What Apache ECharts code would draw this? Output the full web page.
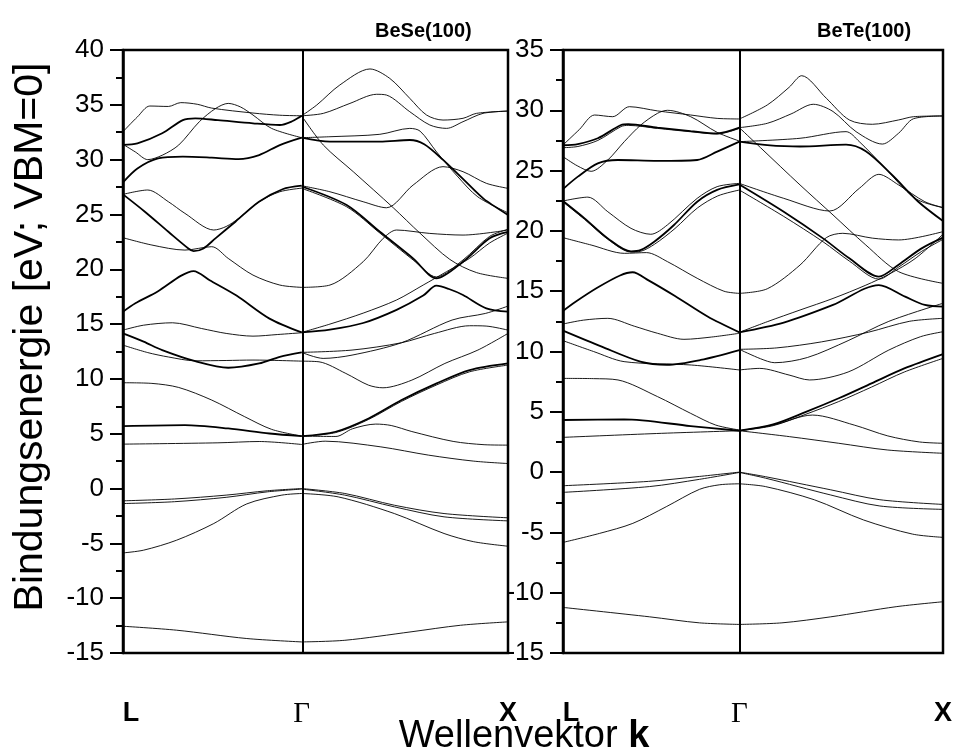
<!DOCTYPE html>
<html>
<head>
<meta charset="utf-8">
<script src="https://cdn.jsdelivr.net/npm/echarts@6/dist/echarts.min.js"></script>
<style>
  html, body { margin: 0; padding: 0; background: #fff; }
  #chart { width: 955px; height: 751px; }
</style>
</head>
<body>
<div id="chart"></div>
<script>
// k path: L -> Gamma -> X (units of 2pi/a)
const kPoints = [0, 0.866, 1.866]
const kLabels = ['L', 'Γ', 'X']

// BeSe(100): bands as [k, E (eV)], L-Gamma segment
const beseLG = [
  [[0,32.55],[0.07,33.9],[0.13,34.89],[0.22,34.85],[0.28,35.2],[0.36,35.05],[0.43,34.7],[0.63,34.25],[0.76,34.05],[0.866,34.0]],
  [[0,31.4],[0.06,30.7],[0.12,30.0],[0.19,30.4],[0.27,31.33],[0.37,33.46],[0.45,34.68],[0.51,35.13],[0.57,34.8],[0.63,34.07],[0.72,32.85],[0.866,32.0]],
  [[0,31.35],[0.07,31.48],[0.19,32.4],[0.29,33.61],[0.35,33.77],[0.46,33.6],[0.63,33.31],[0.76,33.16],[0.82,33.5],[0.866,34.0]],
  [[0,27.93],[0.07,29.2],[0.17,30.12],[0.29,30.27],[0.43,30.18],[0.56,30.05],[0.66,30.42],[0.76,31.33],[0.866,32.0]],
  [[0,26.83],[0.12,27.23],[0.22,26.16],[0.3,25.1],[0.44,23.58],[0.5,23.9],[0.56,24.64],[0.66,26.16],[0.76,27.07],[0.866,27.4]],
  [[0,26.83],[0.106,25.25],[0.22,23.42],[0.317,21.9],[0.342,21.66],[0.39,21.9],[0.448,22.82],[0.545,24.34],[0.659,26.16],[0.773,27.3],[0.866,27.62]],
  [[0,22.88],[0.14,22.21],[0.3,21.75],[0.43,22.06],[0.51,20.99],[0.63,19.47],[0.76,18.56],[0.866,18.35]],
  [[0,16.13],[0.06,16.9],[0.17,18.0],[0.28,19.4],[0.342,19.84],[0.42,19.0],[0.55,17.6],[0.71,15.5],[0.866,14.24]],
  [[0,14.45],[0.1,14.9],[0.24,15.12],[0.38,14.6],[0.5,14.15],[0.63,13.9],[0.75,14.05],[0.866,14.21]],
  [[0,14.15],[0.1,13.4],[0.19,12.63],[0.35,11.62],[0.51,11.02],[0.66,11.41],[0.76,12.02],[0.866,12.42]],
  [[0,13.08],[0.12,12.4],[0.22,12.0],[0.35,11.65],[0.5,11.68],[0.63,11.72],[0.866,11.62]],
  [[0,9.65],[0.14,9.59],[0.27,9.22],[0.43,8.07],[0.59,6.55],[0.72,5.4],[0.866,4.78]],
  [[0,5.69],[0.3,5.78],[0.51,5.48],[0.71,5.02],[0.866,4.78]],
  [[0,4.05],[0.46,4.17],[0.66,4.29],[0.866,4.02]],
  [[0,-1.12],[0.25,-0.95],[0.5,-0.6],[0.7,-0.2],[0.866,0]],
  [[0,-1.37],[0.25,-1.2],[0.5,-0.8],[0.7,-0.3],[0.866,-0.05]],
  [[0,-5.87],[0.1,-5.62],[0.26,-4.71],[0.44,-3.19],[0.6,-1.4],[0.77,-0.6],[0.866,-0.45]],
  [[0,-12.56],[0.26,-12.92],[0.6,-13.68],[0.866,-13.99]]
]

// BeSe(100): Gamma-X segment
const beseGX = [
  [[0.866,34.0],[0.939,34.98],[1.051,36.81],[1.197,38.27],[1.293,37.41],[1.39,35.59],[1.471,34.07],[1.551,33.61],[1.648,33.77],[1.713,34.22],[1.866,34.43]],
  [[0.866,34.0],[0.971,34.22],[1.1,35.13],[1.229,35.96],[1.277,35.89],[1.39,34.37],[1.487,33.16],[1.568,32.85],[1.648,33.46],[1.745,34.22],[1.866,34.43]],
  [[0.866,34.0],[0.971,31.33],[1.116,28.9],[1.31,25.61],[1.439,23.3],[1.584,20.9],[1.713,19.7],[1.866,19.17]],
  [[0.866,32.0],[1.003,32.09],[1.245,32.31],[1.39,32.85],[1.44,32.6],[1.52,30.7],[1.62,28.5],[1.72,26.6],[1.866,25.15]],
  [[0.866,32.0],[1.003,31.64],[1.245,31.64],[1.39,31.79],[1.46,31.4],[1.55,30.0],[1.65,28.2],[1.75,26.4],[1.866,24.95]],
  [[0.866,27.62],[1.003,27.07],[1.164,26.16],[1.277,25.61],[1.406,27.68],[1.551,29.36],[1.648,28.9],[1.761,27.84],[1.866,27.38]],
  [[0.866,27.55],[1.084,25.86],[1.245,23.42],[1.406,20.99],[1.519,19.17],[1.648,20.69],[1.777,22.82],[1.866,23.4]],
  [[0.866,27.38],[1.084,25.7],[1.245,23.3],[1.406,20.85],[1.519,19.3],[1.648,20.85],[1.777,23.0],[1.866,23.65]],
  [[0.866,18.35],[1.003,18.56],[1.164,20.69],[1.261,22.82],[1.326,23.58],[1.487,23.27],[1.648,23.12],[1.866,23.58]],
  [[0.866,14.24],[1.003,14.5],[1.164,15.1],[1.326,16.3],[1.455,17.6],[1.519,18.5],[1.58,18.2],[1.648,17.65],[1.761,16.43],[1.866,16.13]],
  [[0.866,14.24],[1.003,15.0],[1.164,16.0],[1.326,17.2],[1.455,18.56],[1.568,19.78],[1.68,21.0],[1.777,22.4],[1.866,23.3]],
  [[0.866,11.62],[0.95,11.56],[1.08,10.5],[1.19,9.43],[1.26,9.19],[1.4,9.89],[1.56,11.41],[1.72,12.63],[1.866,14.15]],
  [[0.866,12.42],[1.11,12.63],[1.35,13.3],[1.51,14.15],[1.68,14.85],[1.76,14.82],[1.866,14.45]],
  [[0.866,12.42],[0.97,11.87],[1.11,12.17],[1.35,13.3],[1.595,15.37],[1.756,15.97],[1.866,16.64]],
  [[0.866,4.78],[1.03,5.18],[1.19,6.39],[1.35,8.07],[1.52,9.59],[1.68,10.8],[1.866,11.41]],
  [[0.866,4.78],[1.03,5.1],[1.19,6.3],[1.35,7.95],[1.52,9.45],[1.68,10.65],[1.866,11.26]],
  [[0.866,4.78],[1.032,4.75],[1.112,5.45],[1.225,5.88],[1.3,5.75],[1.4,5.2],[1.6,4.3],[1.75,4.0],[1.866,3.96]],
  [[0.866,4.02],[0.98,4.32],[1.25,3.8],[1.48,3.05],[1.7,2.5],[1.866,2.28]],
  [[0.866,0],[1.075,-0.45],[1.315,-1.52],[1.556,-2.28],[1.866,-2.67]],
  [[0.866,-0.05],[1.075,-0.6],[1.315,-1.67],[1.556,-2.58],[1.866,-2.95]],
  [[0.866,-0.45],[1.043,-0.76],[1.315,-2.28],[1.556,-4.1],[1.7,-4.85],[1.866,-5.26]],
  [[0.866,-13.99],[1.075,-13.84],[1.396,-13.07],[1.636,-12.47],[1.866,-12.16]]
]

// BeTe(100): L-Gamma segment
const beteLG = [
  [[0,27.12],[0.08,28.4],[0.155,29.61],[0.244,29.47],[0.326,30.3],[0.464,29.95],[0.627,29.61],[0.757,29.33],[0.866,29.28]],
  [[0,26.16],[0.07,25.4],[0.138,24.94],[0.22,25.88],[0.301,27.4],[0.382,28.78],[0.464,29.75],[0.513,30.0],[0.627,29.47],[0.757,28.17],[0.866,27.45]],
  [[0,27.1],[0.073,27.2],[0.171,27.68],[0.285,28.78],[0.32,28.85],[0.464,28.56],[0.627,28.28],[0.757,28.09],[0.866,28.56]],
  [[0,26.9],[0.073,27.0],[0.171,27.5],[0.285,28.65],[0.32,28.75],[0.464,28.5],[0.627,28.22],[0.757,28.03],[0.866,28.5]],
  [[0,23.47],[0.073,24.5],[0.171,25.6],[0.269,25.88],[0.464,25.8],[0.659,25.88],[0.757,26.57],[0.866,27.4]],
  [[0,22.48],[0.122,22.8],[0.22,21.59],[0.334,20.21],[0.431,19.72],[0.513,20.5],[0.659,22.7],[0.757,23.67],[0.866,23.94]],
  [[0,22.48],[0.106,21.04],[0.22,19.38],[0.334,18.3],[0.38,18.4],[0.448,19.1],[0.545,20.49],[0.659,22.42],[0.757,23.4],[0.866,23.85]],
  [[0,22.4],[0.106,20.95],[0.22,19.3],[0.334,18.25],[0.38,18.3],[0.45,18.9],[0.55,20.2],[0.66,21.9],[0.76,22.9],[0.866,23.39]],
  [[0,19.44],[0.138,18.83],[0.301,18.14],[0.41,18.2],[0.513,17.45],[0.659,16.07],[0.79,15.0],[0.866,14.82]],
  [[0,13.36],[0.06,14.1],[0.17,15.3],[0.28,16.3],[0.342,16.57],[0.42,15.9],[0.55,14.6],[0.71,12.9],[0.866,11.59]],
  [[0,12.28],[0.1,12.6],[0.22,12.75],[0.35,12.1],[0.464,11.51],[0.594,11.01],[0.73,11.2],[0.866,11.51]],
  [[0,11.73],[0.19,10.4],[0.38,9.16],[0.51,8.9],[0.676,9.3],[0.866,10.12]],
  [[0,10.9],[0.15,10.0],[0.3,9.16],[0.63,8.88],[0.866,8.47]],
  [[0,7.77],[0.15,7.75],[0.27,7.64],[0.464,6.26],[0.627,4.87],[0.75,3.9],[0.866,3.49]],
  [[0,4.32],[0.3,4.37],[0.627,3.82],[0.866,3.43]],
  [[0,2.88],[0.46,3.2],[0.866,3.43]],
  [[0,-1.13],[0.42,-0.77],[0.67,-0.36],[0.866,0]],
  [[0,-1.68],[0.425,-1.2],[0.67,-0.6],[0.866,-0.03]],
  [[0,-5.83],[0.18,-5.08],[0.343,-4.25],[0.507,-2.87],[0.67,-1.43],[0.77,-1.05],[0.866,-0.97]],
  [[0,-11.22],[0.425,-12.0],[0.67,-12.5],[0.866,-12.63]]
]

// BeTe(100): Gamma-X segment
const beteGX = [
  [[0.866,29.28],[1.003,30.44],[1.11,31.9],[1.172,32.87],[1.293,31.0],[1.406,29.2],[1.519,28.84],[1.648,29.2],[1.721,29.47],[1.866,29.53]],
  [[0.866,28.56],[1.003,28.92],[1.12,29.7],[1.229,30.5],[1.326,29.9],[1.439,28.23],[1.568,27.2],[1.648,28.1],[1.721,29.3],[1.866,29.53]],
  [[0.866,28.56],[0.97,26.9],[1.164,23.81],[1.326,21.32],[1.487,18.83],[1.648,16.62],[1.866,15.65]],
  [[0.866,27.4],[1.164,27.68],[1.39,28.23],[1.455,27.4],[1.568,25.46],[1.729,22.7],[1.866,21.93]],
  [[0.866,27.4],[1.003,27.12],[1.164,27.0],[1.39,27.15],[1.487,26.6],[1.616,24.64],[1.745,22.42],[1.866,20.82]],
  [[0.866,23.94],[1.084,22.7],[1.31,21.65],[1.455,23.53],[1.551,24.69],[1.648,23.81],[1.777,22.42],[1.866,21.93]],
  [[0.866,23.85],[1.084,21.59],[1.277,19.38],[1.406,17.73],[1.551,16.21],[1.648,17.2],[1.761,18.55],[1.866,19.44]],
  [[0.866,23.39],[1.084,21.2],[1.277,19.1],[1.406,17.5],[1.551,16.0],[1.648,17.0],[1.761,18.3],[1.866,19.3]],
  [[0.866,14.82],[1.003,15.2],[1.164,17.17],[1.293,19.44],[1.374,19.8],[1.519,19.4],[1.648,19.25],[1.866,19.94]],
  [[0.866,11.59],[1.084,12.4],[1.326,13.86],[1.551,15.51],[1.68,14.55],[1.777,13.86],[1.866,13.72]],
  [[0.866,11.59],[1.003,12.47],[1.164,13.44],[1.326,14.4],[1.487,15.5],[1.6,16.4],[1.729,17.7],[1.866,19.72]],
  [[0.866,8.47],[0.966,8.6],[1.11,8.05],[1.21,7.64],[1.4,8.3],[1.6,10.12],[1.756,11.23],[1.866,11.64]],
  [[0.866,10.18],[1.05,10.3],[1.27,10.8],[1.5,11.6],[1.7,12.5],[1.866,12.75]],
  [[0.866,10.18],[0.97,9.4],[1.04,9.07],[1.2,9.5],[1.4,10.9],[1.6,12.5],[1.866,14.0]],
  [[0.866,3.43],[1.032,3.95],[1.193,4.99],[1.354,6.12],[1.515,7.36],[1.676,8.6],[1.866,9.79]],
  [[0.866,3.43],[1.032,3.85],[1.193,4.8],[1.354,5.85],[1.515,7.05],[1.676,8.3],[1.866,9.43]],
  [[0.866,3.43],[1.032,3.9],[1.225,4.73],[1.43,3.9],[1.595,3.0],[1.75,2.5],[1.866,2.39]],
  [[0.866,3.43],[1.112,2.94],[1.354,2.39],[1.595,1.83],[1.866,1.56]],
  [[0.866,0],[0.994,-0.38],[1.315,-1.47],[1.556,-2.29],[1.866,-2.68]],
  [[0.866,-0.03],[0.994,-0.5],[1.315,-1.9],[1.556,-2.81],[1.866,-3.09]],
  [[0.866,-0.97],[0.994,-1.2],[1.235,-2.3],[1.476,-3.97],[1.716,-5.14],[1.866,-5.41]],
  [[0.866,-12.63],[1.075,-12.5],[1.315,-12.0],[1.636,-11.16],[1.866,-10.75]]
]

// which bands are drawn heavier (degenerate pairs)
const beseThickLG = [2, 3, 5, 7, 9, 12]
const beseThickGX = [4, 6, 9, 14]
const beteThickLG = [2, 4, 6, 9, 11, 14]
const beteThickGX = [4, 6, 9, 14]

const panels = [
  { title: 'BeSe(100)', yMax: 40, lg: beseLG, gx: beseGX, thickLG: beseThickLG, thickGX: beseThickGX },
  { title: 'BeTe(100)', yMax: 35, lg: beteLG, gx: beteGX, thickLG: beteThickLG, thickGX: beteThickGX }
]

const FONT = '"Liberation Sans", Arial, sans-serif'
const gridLefts = [123, 563]

const chart = echarts.init(document.getElementById('chart'))

const series = []
panels.forEach((p, i) => {
  const addBand = (data, thick) => {
    series.push({
      type: 'line',
      xAxisIndex: i,
      yAxisIndex: i,
      data: data,
      showSymbol: false,
      symbol: 'none',
      smooth: 0.3,
      silent: true,
      lineStyle: { color: '#000', width: thick ? 1.8 : 0.9 }
    })
  }
  p.lg.forEach((b, j) => addBand(b, p.thickLG.includes(j)))
  p.gx.forEach((b, j) => addBand(b, p.thickGX.includes(j)))
  // vertical line at Gamma
  series.push({
    type: 'line',
    xAxisIndex: i,
    yAxisIndex: i,
    data: [],
    markLine: {
      symbol: 'none',
      silent: true,
      label: { show: false },
      lineStyle: { color: '#000', width: 2, type: 'solid' },
      data: [{ xAxis: kPoints[1] }]
    }
  })
})

const option = {
  animation: false,
  backgroundColor: '#fff',
  textStyle: { fontFamily: FONT, color: '#000' },
  title: [
    { text: panels[0].title, left: 370, top: 16, textStyle: { fontSize: 20, fontWeight: 'bold', fontFamily: FONT, color: '#000' } },
    { text: panels[1].title, left: 812, top: 16, textStyle: { fontSize: 20, fontWeight: 'bold', fontFamily: FONT, color: '#000' } }
  ],
  grid: gridLefts.map(l => ({
    left: l, top: 50, width: 385, height: 603,
    show: true, borderColor: '#000', borderWidth: 2.5, backgroundColor: 'transparent'
  })),
  xAxis: panels.map((p, i) => ({
    type: 'value',
    gridIndex: i,
    min: kPoints[0],
    max: kPoints[2],
    splitLine: { show: false },
    axisLine: { show: false },
    axisTick: { show: false },
    axisLabel: {
      customValues: kPoints,
      margin: 47,
      formatter: v => {
        const n = kPoints.findIndex(k => Math.abs(k - v) < 1e-6)
        if (n === 0) return '{l|' + kLabels[0] + '}'
        if (n === 1) return '{g|' + kLabels[1] + '}'
        return '{b|' + kLabels[2] + '}'
      },
      rich: {
        l: { fontSize: 27, fontWeight: 'bold', fontFamily: FONT, color: '#000', padding: [0, 0, 0, 16] },
        b: { fontSize: 27, fontWeight: 'bold', fontFamily: FONT, color: '#000' },
        g: { fontSize: 29, fontFamily: '"Liberation Serif", "Times New Roman", serif', color: '#000' }
      }
    }
  })),
  yAxis: panels.map((p, i) => ({
    type: 'value',
    gridIndex: i,
    min: -15,
    max: p.yMax,
    interval: 5,
    splitLine: { show: false },
    axisLine: { show: true, lineStyle: { color: '#000', width: 2.5 } },
    axisTick: { show: true, length: 13, lineStyle: { color: '#000', width: 2 } },
    minorTick: { show: true, splitNumber: 2, length: 7, lineStyle: { color: '#000', width: 2 } },
    axisLabel: { fontSize: 26, margin: 19, color: '#000', fontFamily: FONT }
  })),
  graphic: [
    {
      type: 'text',
      x: 31,
      y: 337,
      rotation: Math.PI / 2,
      style: {
        text: 'Bindungsenergie [eV; VBM=0]',
        align: 'center',
        verticalAlign: 'middle',
        font: '41px "Liberation Sans", Arial, sans-serif',
        fill: '#000'
      }
    },
    {
      type: 'text',
      x: 524,
      y: 737,
      style: {
        text: '{n|Wellenvektor }{k|k}',
        align: 'center',
        verticalAlign: 'middle',
        rich: {
          n: { fontSize: 38, fontFamily: FONT, fill: '#000' },
          k: { fontSize: 38, fontFamily: FONT, fontWeight: 'bold', fill: '#000' }
        }
      }
    }
  ],
  series: series
}

chart.setOption(option)

window.addEventListener('resize', function () {
  chart.resize()
})
</script>
</body>
</html>
